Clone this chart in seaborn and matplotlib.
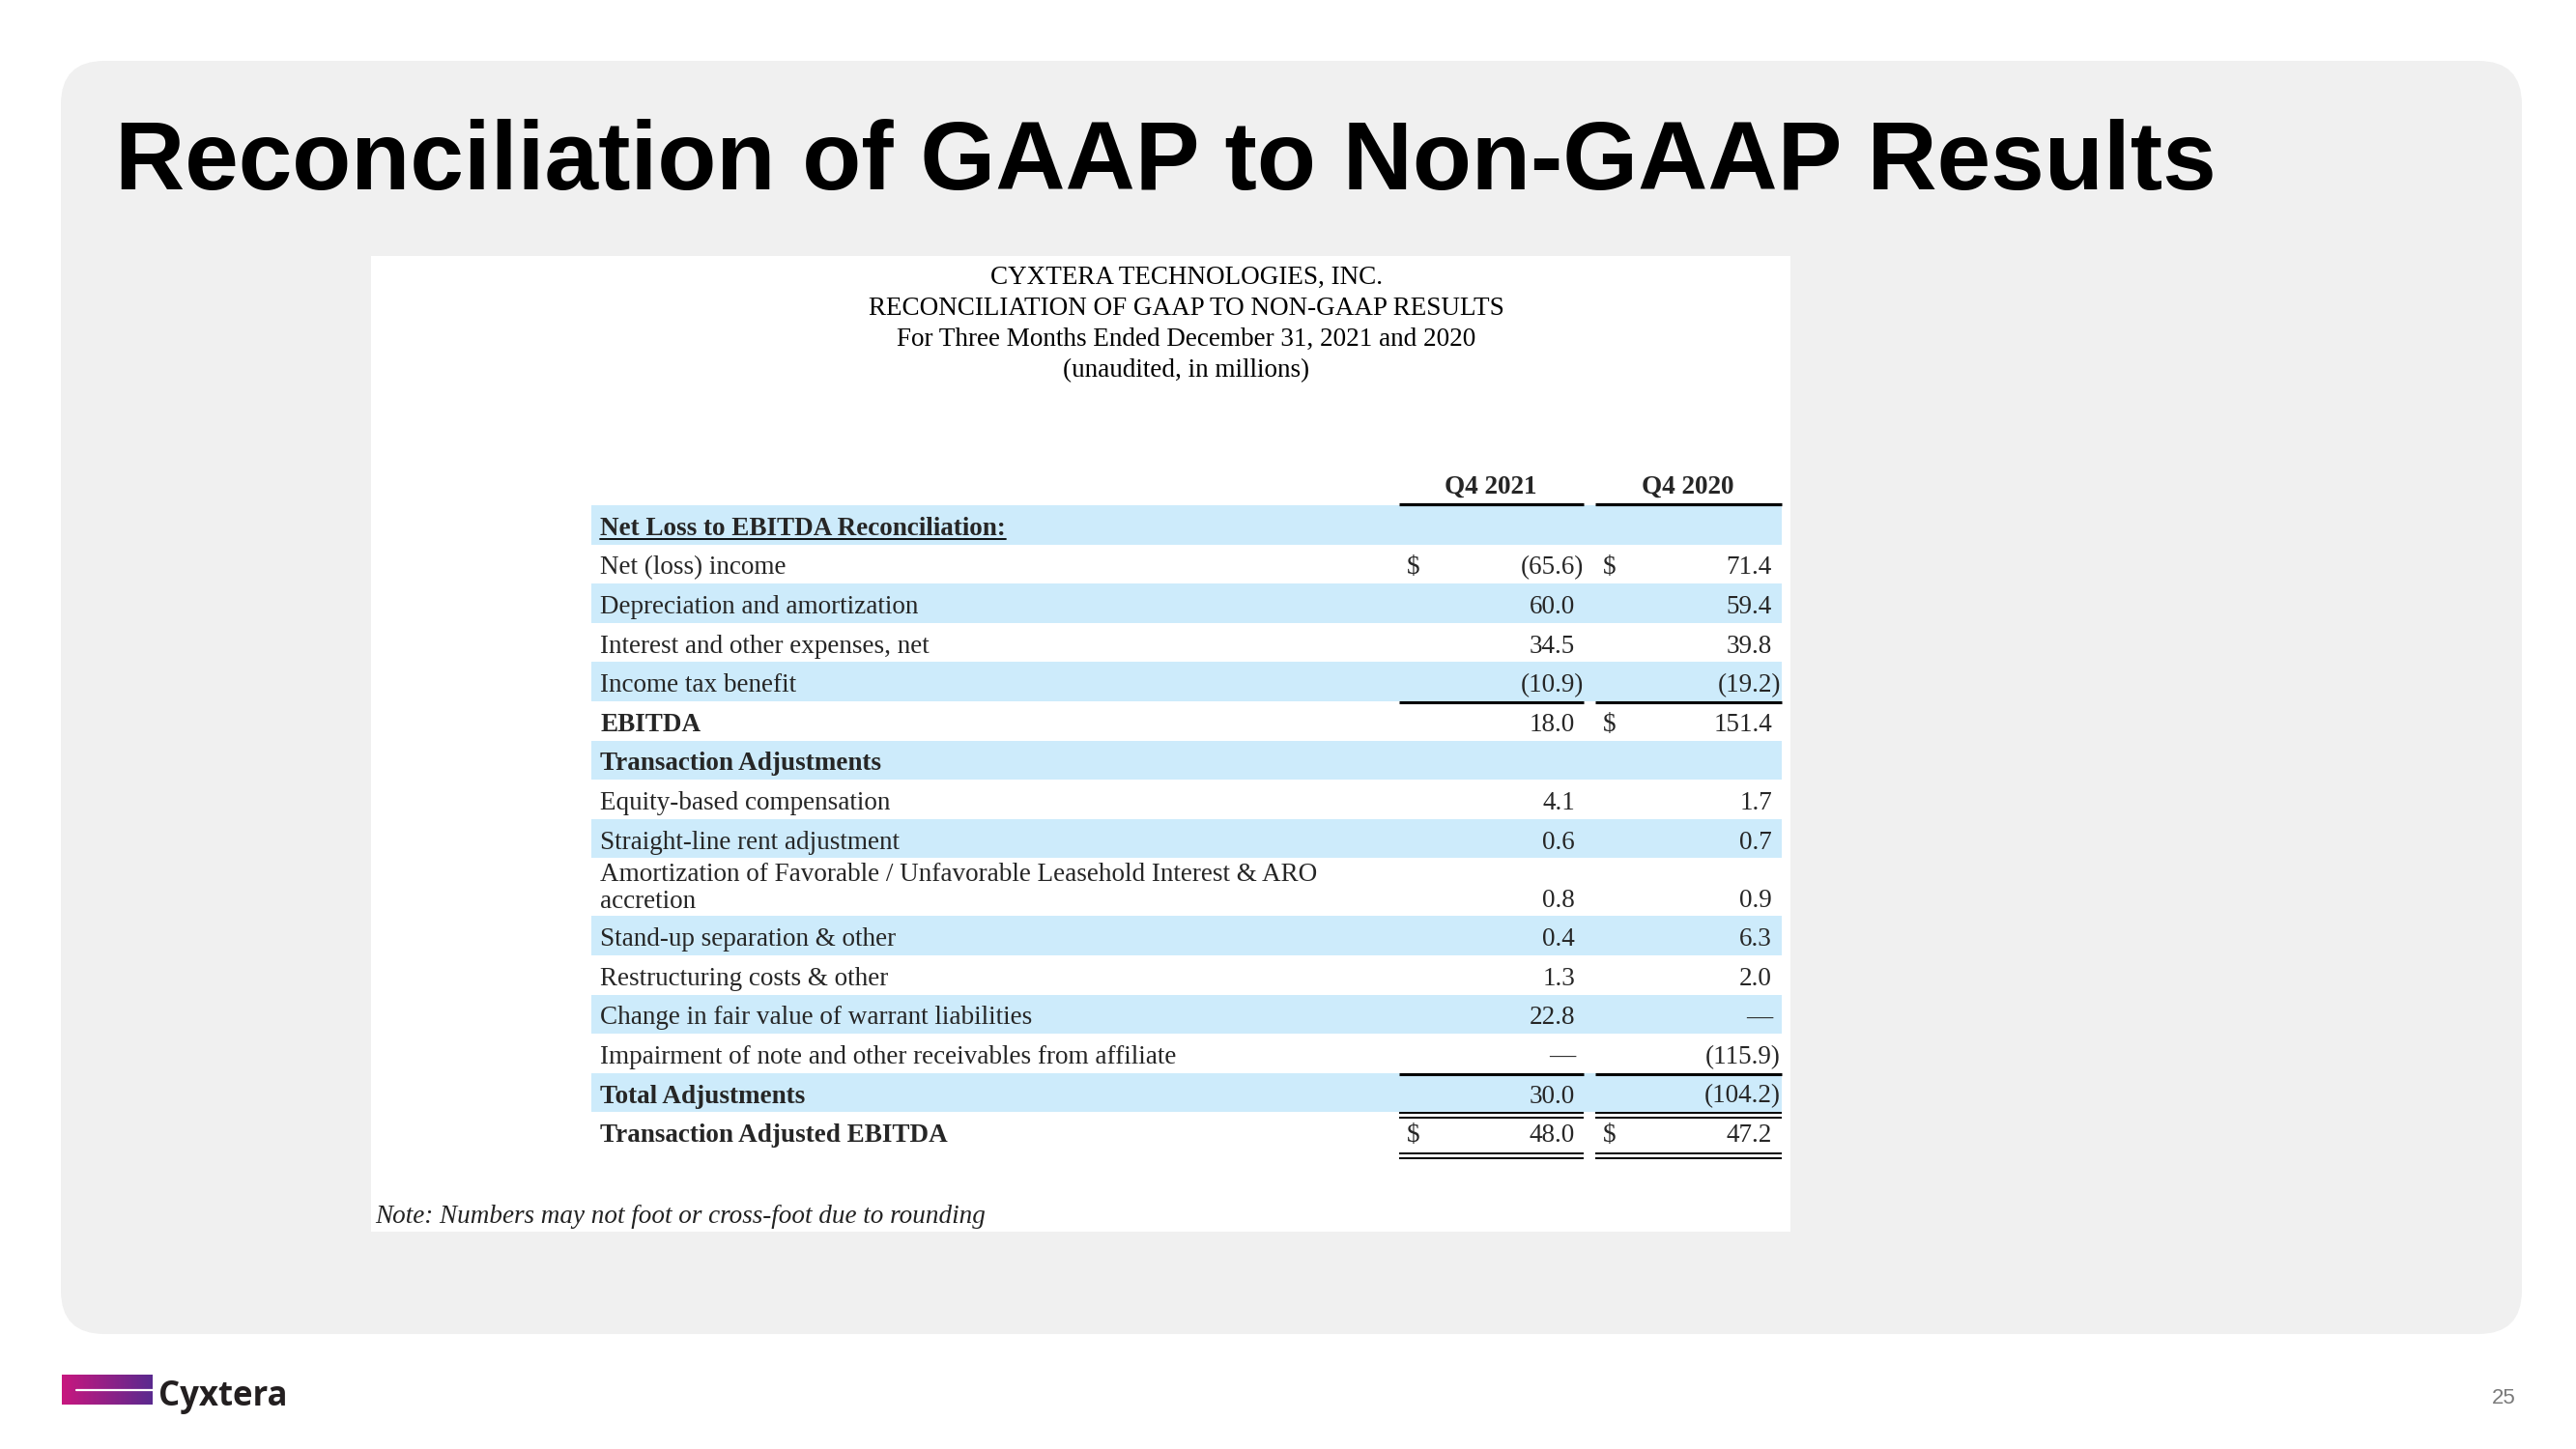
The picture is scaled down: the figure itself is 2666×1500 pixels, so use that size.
import numpy as np
import pandas as pd
import matplotlib.pyplot as plt
import seaborn as sns
from matplotlib.patches import FancyBboxPatch, Rectangle
from matplotlib.colors import LinearSegmentedColormap

# slide text
title = "Reconciliation of GAAP to Non-GAAP Results"
heading = ["CYXTERA TECHNOLOGIES, INC.",
           "RECONCILIATION OF GAAP TO NON-GAAP RESULTS",
           "For Three Months Ended December 31, 2021 and 2020",
           "(unaudited, in millions)"]
columns = ["Q4 2021", "Q4 2020"]
note = "Note: Numbers may not foot or cross-foot due to rounding"
page_no = "25"
brand = "Cyxtera"

# table rows (None = blank, 0.0 = dash)
labels = ["Net Loss to EBITDA Reconciliation:",
          "Net (loss) income",
          "Depreciation and amortization",
          "Interest and other expenses, net",
          "Income tax benefit",
          "EBITDA",
          "Transaction Adjustments",
          "Equity-based compensation",
          "Straight-line rent adjustment",
          "Amortization of Favorable / Unfavorable Leasehold Interest & ARO\naccretion",
          "Stand-up separation & other",
          "Restructuring costs & other",
          "Change in fair value of warrant liabilities",
          "Impairment of note and other receivables from affiliate",
          "Total Adjustments",
          "Transaction Adjusted EBITDA"]
q4_2021 = [None, -65.6, 60.0, 34.5, -10.9, 18.0, None, 4.1, 0.6, 0.8, 0.4, 1.3, 22.8, 0.0, 30.0, 48.0]
q4_2020 = [None, 71.4, 59.4, 39.8, -19.2, 151.4, None, 1.7, 0.7, 0.9, 6.3, 2.0, 0.0, -115.9, -104.2, 47.2]
bold_rows = [0, 5, 6, 14, 15]
dollar_2021 = [1, 15]
dollar_2020 = [1, 5, 15]

rows = pd.DataFrame({"label": labels, "q4_2021": q4_2021, "q4_2020": q4_2020})

sns.set_theme(style="white")
plt.rcParams['font.family'] = ['Liberation Serif', 'DejaVu Serif']
FS = 19.5

fig = plt.figure(figsize=(26.66, 15), dpi=100)
ax = fig.add_axes([0, 0, 1, 1])
ax.set_xlim(0, 2666)
ax.set_ylim(1500, 0)
ax.set_autoscale_on(False)
ax.axis('off')

# background panel and white table box
ax.add_patch(FancyBboxPatch((63, 63), 2547, 1318, boxstyle="round,pad=0,rounding_size=45",
                            fc="#f0f0f0", ec="none"))
ax.add_patch(Rectangle((384, 265), 1469, 1010, fc="white", ec="none"))

ax.text(119, 196, title, family="Liberation Sans", weight="bold", fontsize=72,
        color="black", ha="left", va="baseline")

for i, line in enumerate(heading):
    ax.text(1228, 294 + 32 * i, line, fontsize=FS, ha="center", va="baseline", color="black")

# column headers
col_mid = [1543, 1747]
col_span = [(1448, 1639), (1651, 1844)]
for name, xm, (a, b) in zip(columns, col_mid, col_span):
    ax.text(xm, 511, name, fontsize=FS, weight="bold", ha="center", va="baseline")
    ax.plot([a, b], [522, 522], color="black", lw=2.3, solid_capstyle="butt")

heights = np.where(rows.label.str.contains("\n"), 60.0, 40.6)
tops = 523 + np.concatenate([[0], np.cumsum(heights)[:-1]])


def fmt(v):
    if pd.isna(v):
        return ""
    if v == 0:
        return "\u2014"
    if v < 0:
        return f"({-v:.1f})"
    return f"{v:.1f}"


right_edge = [1630, 1834]
dollar_x = [1456, 1659]
for i, r in rows.iterrows():
    top, h = tops[i], heights[i]
    if i % 2 == 0:
        ax.add_patch(Rectangle((612, top), 1232, h, fc="#cdebfb", ec="none"))
    base = top + h - 20.3 + 10.5
    wt = "bold" if i in bold_rows else "normal"
    if "\n" in r.label:
        ax.text(621, top + h / 2 + 1, r.label, fontsize=FS, weight=wt, ha="left",
                va="center", linespacing=1.12)
    else:
        t = ax.text(621, base, r.label, fontsize=FS, weight=wt, ha="left", va="baseline")
        if i == 0:
            fig.canvas.draw()
            bb = t.get_window_extent()
            ax.plot([bb.x0, bb.x1], [base + 4, base + 4], color="black", lw=1.3)
    for j, col in enumerate(["q4_2021", "q4_2020"]):
        v = r[col]
        s = fmt(v)
        x = right_edge[j] + (9 if (not pd.isna(v) and v < 0) else 0)
        ax.text(x, base, s, fontsize=FS, ha="right", va="baseline")
    if i in dollar_2021:
        ax.text(dollar_x[0], base, "$", fontsize=FS, ha="left", va="baseline")
    if i in dollar_2020:
        ax.text(dollar_x[1], base, "$", fontsize=FS, ha="left", va="baseline")

# rules
for i in [5, 14]:
    for a, b in col_span:
        ax.plot([a, b], [tops[i] + 1, tops[i] + 1], color="black", lw=2.2, solid_capstyle="butt")
last = len(rows) - 1
for y in [tops[last] + 1, tops[last] + 6, tops[last] + 43, tops[last] + 48]:
    for a, b in col_span:
        ax.plot([a, b], [y, y], color="black", lw=1.4, solid_capstyle="butt")

ax.text(388, 1266, note, fontsize=FS, style="italic", ha="left", va="baseline", color="#222")

# logo
grad = LinearSegmentedColormap.from_list("cyx", ["#c8177f", "#5a2a8f"])
ax.imshow(np.linspace(0, 1, 200).reshape(1, -1), cmap=grad, extent=(64, 158, 1454, 1423),
          aspect="auto")
ax.plot([79, 158], [1439, 1439], color="white", lw=1.6)
ax.text(164, 1455, brand, family="Open Sans", weight="bold", fontsize=25,
        color="#231f20", ha="left", va="baseline")

ax.text(2604, 1453, page_no, family="Liberation Sans", fontsize=16, color="#7a7a7a",
        ha="right", va="baseline")

fig.savefig("out.png", dpi=100, facecolor="white")
